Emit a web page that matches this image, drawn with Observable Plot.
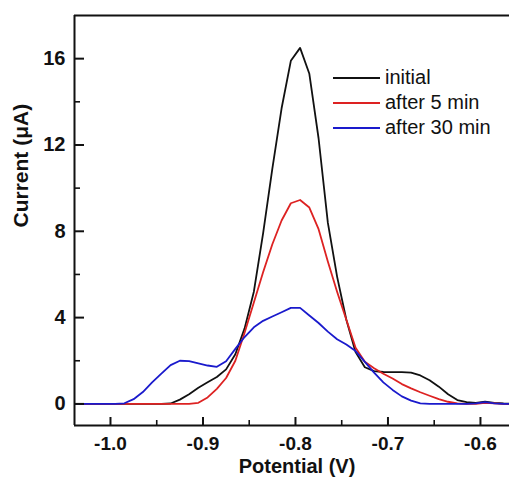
<!DOCTYPE html>
<html>
<head>
<meta charset="utf-8">
<script src="https://cdn.jsdelivr.net/npm/d3@7"></script>
<script src="https://cdn.jsdelivr.net/npm/@observablehq/plot@0.6"></script>
<style>
  body { margin: 0; background: white; }
  #wrap { position: relative; width: 509px; height: 477px; font-family: "Liberation Sans", Arial, sans-serif; }
  #legend { position: absolute; left: 333px; top: 65px; }
  .row { display: flex; align-items: center; height: 25px; }
  .sw { width: 47px; height: 2px; }
  .lab { margin-left: 5px; font-size: 20px; color: #111; line-height: 25px; white-space: nowrap; }
</style>
</head>
<body>
<div id="wrap"></div>
<script>
// ---- data ----
const potential = [-1.04,-1.035,-1.025,-1.015,-1.005,-0.995,-0.985,-0.975,-0.965,-0.955,-0.945,-0.935,-0.925,-0.915,-0.905,-0.895,-0.885,-0.875,-0.865,-0.855,-0.845,-0.835,-0.825,-0.815,-0.805,-0.795,-0.785,-0.775,-0.765,-0.755,-0.745,-0.735,-0.725,-0.715,-0.705,-0.695,-0.685,-0.675,-0.665,-0.655,-0.645,-0.635,-0.625,-0.615,-0.605,-0.595,-0.585,-0.575,-0.565];
const initial = [0,0,0,0,0,0,0,0,0,0,0,0.02,0.2,0.45,0.75,1.0,1.25,1.6,2.3,3.5,5.2,7.9,10.9,13.7,15.9,16.5,15.3,12.3,8.4,5.9,3.9,2.4,1.7,1.52,1.48,1.47,1.47,1.45,1.32,1.1,0.8,0.45,0.18,0.08,0.05,0.1,0.05,0.02,0];
const after5 = [0,0,0,0,0,0,0,0,0,0,0,0,0,0,0.05,0.3,0.7,1.2,2.0,3.3,4.7,6.1,7.4,8.5,9.3,9.45,9.1,8.1,6.6,5.2,3.9,2.6,1.95,1.65,1.4,1.18,0.92,0.72,0.54,0.38,0.22,0.1,0.03,0,0,0.05,0.03,0,0];
const after30 = [0,0,0,0,0,0,0.03,0.22,0.55,1.0,1.4,1.8,2.0,1.98,1.88,1.78,1.72,1.98,2.55,3.1,3.55,3.85,4.05,4.25,4.45,4.45,4.1,3.75,3.35,3.0,2.75,2.45,1.95,1.45,1.0,0.65,0.35,0.15,0.03,0,0,0,0,0,0.03,0.08,0.03,0,0];
const seriesNames = ["initial", "after 5 min", "after 30 min"];
const seriesColors = ["#111111", "#dd2222", "#1a1acc"];
const xMajorTicks = [-1.0, -0.9, -0.8, -0.7, -0.6];
const xMinorTicks = [-0.95, -0.85, -0.75, -0.65];
const yMajorTicks = [0, 4, 8, 12, 16];
const yMinorTicks = [2, 6, 10, 14];
const xDomain = [-1.0389, -0.5686];
const yDomain = [-1, 18];

// ---- build table ----
const seriesValues = [initial, after5, after30];
const table = [];
seriesNames.forEach((name, s) => {
  potential.forEach((p, i) => table.push({series: name, potential: p, current: seriesValues[s][i]}));
});

const W = 509, H = 477, ML = 74, MR = 0, MT = 15, MB = 52;
const innerW = W - ML - MR, innerH = H - MT - MB;

const chart = Plot.plot({
  width: W, height: H,
  marginLeft: ML, marginRight: MR, marginTop: MT, marginBottom: MB,
  style: {fontFamily: '"Liberation Sans", Arial, sans-serif', fontSize: "20px", background: "white", color: "#111"},
  x: {domain: xDomain},
  y: {domain: yDomain},
  color: {domain: seriesNames, range: seriesColors},
  marks: [
    Plot.line(table, {x: "potential", y: "current", z: "series", stroke: "series", strokeWidth: 1.8, clip: true}),
    Plot.ruleX([xDomain[0]], {stroke: "#111", strokeWidth: 2}),
    Plot.ruleY([yDomain[0], yDomain[1]], {stroke: "#111", strokeWidth: 2}),
    Plot.tickY(yMajorTicks, {y: d => d, insetRight: innerW - 10, stroke: "#111", strokeWidth: 2}),
    Plot.tickY(yMinorTicks, {y: d => d, insetRight: innerW - 6, stroke: "#111", strokeWidth: 1.6}),
    Plot.tickX(xMajorTicks, {x: d => d, insetTop: innerH - 8, stroke: "#111", strokeWidth: 2}),
    Plot.tickX(xMinorTicks, {x: d => d, insetTop: innerH - 5, stroke: "#111", strokeWidth: 1.6}),
    Plot.axisX({ticks: xMajorTicks, tickFormat: d => d.toFixed(1), tickSize: 0, tickPadding: 11, fontWeight: "bold", fontSize: 19, label: null}),
    Plot.axisY({ticks: yMajorTicks, tickFormat: d => String(d), tickSize: 0, tickPadding: 9, fontWeight: "bold", fontSize: 20, label: null}),
    Plot.text(["Potential (V)"], {text: d => d, frameAnchor: "bottom", dy: 41, dx: 5, lineAnchor: "middle", fontSize: 20, fontWeight: "bold"}),
    Plot.text(["Current (\u03bcA)"], {text: d => d, frameAnchor: "left", rotate: -90, dx: -53, dy: 7, lineAnchor: "middle", fontSize: 21, fontWeight: "bold"})
  ]
});

const wrap = document.getElementById("wrap");
wrap.appendChild(chart);
const legend = document.createElement("div");
legend.id = "legend";
seriesNames.forEach((name, i) => {
  const row = document.createElement("div");
  row.className = "row";
  const sw = document.createElement("span");
  sw.className = "sw";
  sw.style.background = seriesColors[i];
  const lab = document.createElement("span");
  lab.className = "lab";
  lab.textContent = name;
  row.appendChild(sw);
  row.appendChild(lab);
  legend.appendChild(row);
});
wrap.appendChild(legend);
</script>
</body>
</html>
